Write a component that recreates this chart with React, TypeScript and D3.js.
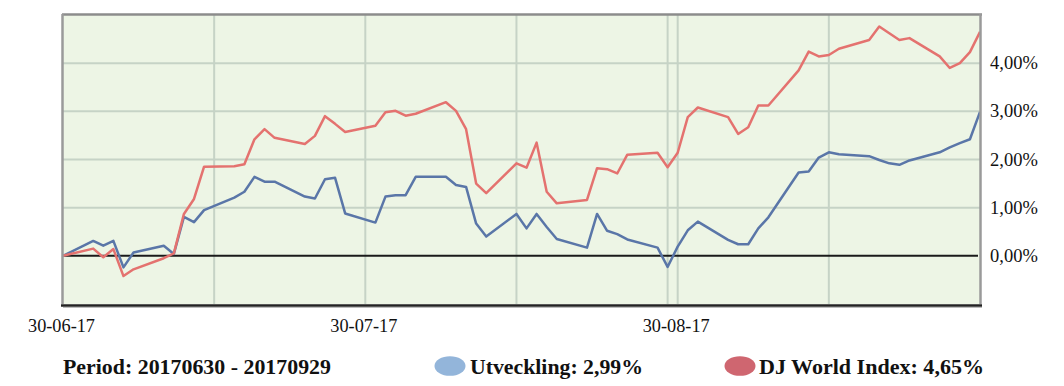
import React from "react";
import * as d3 from "d3";

const dates: string[] = [
  "2017-06-30", "2017-07-03", "2017-07-04", "2017-07-05", "2017-07-06", "2017-07-07",
  "2017-07-10", "2017-07-11", "2017-07-12", "2017-07-13", "2017-07-14",
  "2017-07-17", "2017-07-18", "2017-07-19", "2017-07-20", "2017-07-21",
  "2017-07-24", "2017-07-25", "2017-07-26", "2017-07-27", "2017-07-28",
  "2017-07-31", "2017-08-01", "2017-08-02", "2017-08-03", "2017-08-04",
  "2017-08-07", "2017-08-08", "2017-08-09", "2017-08-10", "2017-08-11",
  "2017-08-14", "2017-08-15", "2017-08-16", "2017-08-17", "2017-08-18",
  "2017-08-21", "2017-08-22", "2017-08-23", "2017-08-24", "2017-08-25",
  "2017-08-28", "2017-08-29", "2017-08-30", "2017-08-31", "2017-09-01",
  "2017-09-04", "2017-09-05", "2017-09-06", "2017-09-07", "2017-09-08",
  "2017-09-11", "2017-09-12", "2017-09-13", "2017-09-14", "2017-09-15",
  "2017-09-18", "2017-09-19", "2017-09-20", "2017-09-21", "2017-09-22",
  "2017-09-25", "2017-09-26", "2017-09-27", "2017-09-28", "2017-09-29",
];

const utveckling: number[] = [
  0.0, 0.31, 0.21, 0.31, -0.24, 0.07,
  0.21, 0.04, 0.81, 0.70, 0.95,
  1.21, 1.33, 1.64, 1.54, 1.54,
  1.23, 1.19, 1.59, 1.62, 0.88,
  0.69, 1.23, 1.26, 1.26, 1.64,
  1.64, 1.47, 1.43, 0.67, 0.40,
  0.87, 0.57, 0.87, 0.60, 0.35,
  0.17, 0.87, 0.52, 0.45, 0.34,
  0.17, -0.23, 0.19, 0.53, 0.71,
  0.33, 0.24, 0.24, 0.57, 0.80,
  1.73, 1.75, 2.04, 2.15, 2.11,
  2.07, 1.99, 1.92, 1.89, 1.98,
  2.15, 2.25, 2.34, 2.42, 2.99,
];

const djWorld: number[] = [
  0.0, 0.15, -0.03, 0.14, -0.42, -0.28,
  -0.05, 0.05, 0.87, 1.18, 1.85,
  1.86, 1.90, 2.42, 2.63, 2.45,
  2.32, 2.49, 2.90, 2.74, 2.57,
  2.70, 2.98, 3.01, 2.91, 2.95,
  3.19, 3.01, 2.63, 1.50, 1.30,
  1.92, 1.83, 2.35, 1.33, 1.09,
  1.16, 1.82, 1.80, 1.71, 2.10,
  2.14, 1.84, 2.14, 2.88, 3.08,
  2.88, 2.53, 2.67, 3.12, 3.12,
  3.85, 4.24, 4.14, 4.17, 4.30,
  4.48, 4.76, 4.62, 4.48, 4.52,
  4.14, 3.90, 4.00, 4.23, 4.65,
];

const yTicks: number[] = [0, 1, 2, 3, 4];
const yGrid: number[] = [1, 2, 3, 4];
const gridDates: string[] = ["2017-07-15", "2017-07-30", "2017-08-14", "2017-08-29", "2017-08-30", "2017-09-14"];
const xLabelDates: string[] = ["2017-06-30", "2017-07-30", "2017-08-30"];
const xLabels: string[] = ["30-06-17", "30-07-17", "30-08-17"];
const legendItems: string[] = ["Utveckling: 2,99%", "DJ World Index: 4,65%"];
const periodText = "Period: 20170630 - 20170929";

const parse = d3.timeParse("%Y-%m-%d");

export default function App() {
  const W = 1064, H = 386;
  const left = 63, right = 980, top = 15, bottom = 304;
  const x = d3.scaleTime()
    .domain([parse("2017-06-30") as Date, parse("2017-09-29") as Date])
    .range([left, right]);
  const y = d3.scaleLinear().domain([-1, 5]).range([bottom, top]);
  const fmt = (v: number) => v.toFixed(2).replace(".", ",") + "%";

  const pts = dates.map((d) => parse(d) as Date);
  const line = (vals: number[]) =>
    d3.line<number>()
      .x((_, i) => x(pts[i]))
      .y((v) => y(v))(vals) as string;

  const serif = "'Liberation Serif', 'Times New Roman', serif";

  return (
    <div style={{ position: "absolute", left: 0, top: 0 }}>
      <svg width={W} height={H} style={{ display: "block", background: "#fff" }}>
        <rect x={left} y={top} width={right - left} height={bottom - top} fill="#EDF5E5" />
        {yGrid.map((v) => (
          <line key={"hg" + v} x1={left} x2={right} y1={y(v)} y2={y(v)} stroke="#C6D3C6" strokeWidth={2} />
        ))}
        {gridDates.map((d) => {
          const xx = x(parse(d) as Date);
          return <line key={"vg" + d} x1={xx} x2={xx} y1={top} y2={bottom} stroke="#C6D3C6" strokeWidth={2} />;
        })}
        <line x1={left} x2={right - 2} y1={y(0)} y2={y(0)} stroke="#1a1a1a" strokeWidth={2} />
        <path d={line(utveckling)} fill="none" stroke="#5A76A8" strokeWidth={2.5} strokeLinejoin="round" />
        <path d={line(djWorld)} fill="none" stroke="#E4726F" strokeWidth={2.5} strokeLinejoin="round" />
        {/* frame */}
        <line x1={left - 1} x2={right + 2} y1={top - 0.5} y2={top - 0.5} stroke="#8C8C8C" strokeWidth={2.5} />
        <line x1={left - 0.5} x2={left - 0.5} y1={top - 1} y2={bottom} stroke="#9A9A9A" strokeWidth={2.5} />
        <line x1={right + 0.5} x2={right + 0.5} y1={top - 1} y2={bottom} stroke="#9A9A9A" strokeWidth={2.5} />
        <line x1={left - 2} x2={right + 2} y1={bottom + 1.5} y2={bottom + 1.5} stroke="#222" strokeWidth={2.5} />
        <line x1={left} x2={right + 2} y1={bottom + 3.5} y2={bottom + 3.5} stroke="#BDBDBD" strokeWidth={1.2} />

        {yTicks.map((v) => (
          <text key={"yt" + v} x={990} y={y(v) + 6} fontFamily={serif} fontSize={18.5} fill="#111">
            {fmt(v)}
          </text>
        ))}
        {xLabelDates.map((d, i) => (
          <text key={"xl" + d} x={x(parse(d) as Date) - 1.5} y={332} textAnchor="middle"
            fontFamily={serif} fontSize={19.5} fill="#111" textLength={67} lengthAdjust="spacingAndGlyphs">
            {xLabels[i]}
          </text>
        ))}

        <text x={63} y={374} fontFamily={serif} fontWeight="bold" fontSize={22} fill="#111"
          textLength={268} lengthAdjust="spacingAndGlyphs">{periodText}</text>
        <ellipse cx={450} cy={366} rx={15.5} ry={9.8} fill="#93B5DA" />
        <text x={470} y={374} fontFamily={serif} fontWeight="bold" fontSize={22} fill="#111"
          textLength={173} lengthAdjust="spacingAndGlyphs">{legendItems[0]}</text>
        <ellipse cx={740} cy={366} rx={15.5} ry={9.8} fill="#CF6670" />
        <text x={759} y={374} fontFamily={serif} fontWeight="bold" fontSize={22} fill="#111"
          textLength={225} lengthAdjust="spacingAndGlyphs">{legendItems[1]}</text>
      </svg>
    </div>
  );
}
